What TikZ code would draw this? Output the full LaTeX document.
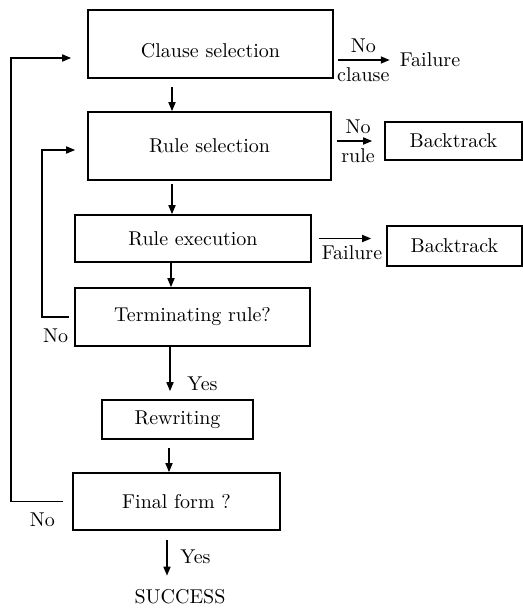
\documentclass[tikz,border=0pt]{standalone}
\usetikzlibrary{arrows.meta}
\begin{document}
\begin{tikzpicture}[x=0.5pt, y=-0.5pt,
        box/.style={draw, line width=0.8pt, inner sep=0pt},
        arr/.style={line width=0.8pt, -{Triangle[length=4.5pt, width=3.5pt]}}]
        % Fix the page size
        \useasboundingbox (0, 0) rectangle (523, 610);

        % Draw the main boxes
        \node[box, minimum width=122.5pt, minimum height=34pt] (clause) at (210.5, 44) {\raisebox{-4.5pt}[7pt][2pt]{Clause selection}};
        \node[box, minimum width=121.5pt, minimum height=34pt] (rulesel) at (209.5, 146) {Rule selection};
        \node[box, minimum width=118pt, minimum height=23.5pt] (exec) at (193, 238.5) {Rule execution};
        \node[box, minimum width=117.5pt, minimum height=29pt] (term) at (192.5, 317) {Terminating rule?};
        \node[box, minimum width=75.5pt, minimum height=19.5pt] (rewrite) at (177.5, 419.5) {Rewriting};
        \node[box, minimum width=103.5pt, minimum height=28.5pt] (final) at (176.5, 501.5) {Final form ?};

        % Draw the boxes and texts on the right
        \node (fail) at (430, 60) {Failure};
        \node[box, minimum width=68.5pt, minimum height=19pt] (back1) at (453.5, 141) {Backtrack};
        \node[box, minimum width=67.5pt, minimum height=20pt] (back2) at (454.5, 246) {Backtrack};
        \node (success) at (180, 597) {SUCCESS};

        % Draw the arrows going down
        \draw[arr, shorten <=4pt] (clause.south -| 172,0) -- (rulesel.north -| 172,0);
        \draw[arr, shorten <=1.5pt] (rulesel.south -| 172,0) -- (exec.north -| 172,0);
        \draw[arr] (exec.south -| 171,0) -- (term.north -| 171,0);
        \draw[arr, shorten >=4pt] (term.south -| 170,0) -- node[right=5pt, pos=0.7] {Yes} (rewrite.north -| 170,0);
        \draw[arr, shorten <=4pt] (rewrite.south -| 169,0) -- (final.north -| 169,0);
        \draw[arr, shorten <=4.5pt, shorten >=3.5pt] (final.south -| 167,0) -- node[right=3pt] {Yes} (success.north -| 167,0);

        % Draw the arrows going right
        \draw[arr, shorten <=2pt, shorten >=1.5pt] (clause.east |- fail.west) -- node[above] {No} node[below] {clause} (fail.west);
        \draw[arr, shorten <=2.5pt, shorten >=6pt] (rulesel.east |- back1.west) -- node[above] {No} node[below] {rule} (back1.west);
        \draw[arr, shorten <=3.5pt, shorten >=7.5pt] (exec.east) -- node[below, pos=0.54] {Failure} (exec.east -| back2.west);

        % Draw the two loops back on the left
        \draw[arr] ([xshift=-2.5pt]term.west) -- node[below=2pt] {No} ++(-27, 0) |- ([xshift=-6pt, yshift=-2pt]rulesel.west);
        \draw[arr] ([xshift=-4.5pt]final.west) -- node[below=2pt, pos=0.4] {No} ++(-52, 0) |- ([xshift=-8pt, yshift=-7pt]clause.west);
    \end{tikzpicture}
\end{document}
